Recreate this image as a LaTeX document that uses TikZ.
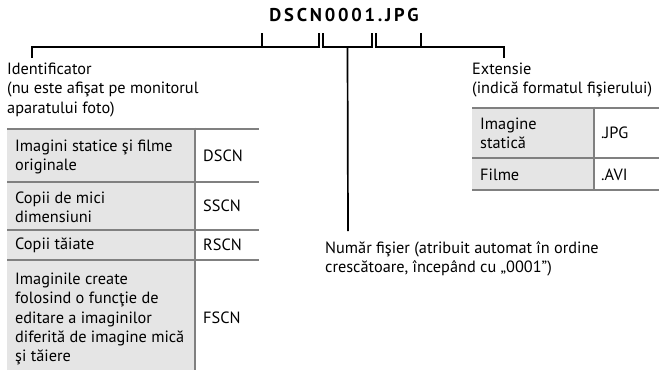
\documentclass[tikz,border=0pt]{standalone}
\usepackage{fontspec}
\setmainfont{PT Sans}
\newfontfamily\titlefont[LetterSpace=15]{PT Sans}
\usetikzlibrary{positioning,calc}
\definecolor{rulegray}{gray}{0.5}
\definecolor{cellgray}{gray}{0.9}
\tikzset{
  leadline/.style={draw=black,line width=1.7pt},
  tblrule/.style={draw=rulegray,line width=2.6pt},
  bodytext/.style={inner sep=0pt,align=left,font=\fontsize{16.3}{19.2}\selectfont},
  celltext/.style={bodytext,anchor=west},
  labeltext/.style={bodytext,anchor=north west},
}

\begin{document}
\begin{tikzpicture}[x=1pt,y=-1pt]
  \useasboundingbox (0,0) rectangle (659,370);
  % file name and its three parts
  \node[inner sep=0pt,font=\titlefont\bfseries\fontsize{18.5}{20}\selectfont] (fname) at (344,15) {DSCN0001.JPG};
  \coordinate (pfxL) at (262,33);
  \coordinate (pfxR) at (319,33);
  \coordinate (numL) at (323,33);
  \coordinate (numR) at (372,33);
  \coordinate (extL) at (376,33);
  \coordinate (extR) at (421,33);
  \draw[leadline] (pfxL) -- ++(0,14) -| (pfxR);
  \draw[leadline] (numL) -- ++(0,14) -| (numR);
  \draw[leadline] (extL) -- ++(0,14) -| (extR);

  % labels
  \node[labeltext] (idlabel) at (7,63) {Identificator\\(nu este afişat pe monitorul\\aparatului foto)};
  \node[labeltext] (extlabel) at (472,63) {Extensie\\(indică formatul fişierului)};
  \node[labeltext] (numlabel) at (325,241) {Număr fişier (atribuit automat în ordine\\crescătoare, începând cu „0001”)};
  \coordinate (idfoot) at (32,58);
  \coordinate (extfoot) at (504,58);
  \coordinate (numfoot) at (348,231);
  \draw[leadline] (idfoot) |- ($(pfxL)+(0,14)$);
  \draw[leadline] (extfoot) |- ($(extR)+(0,14)$);
  \draw[leadline] ($(numL)!0.5!(numR)+(0,14)$) -- (numfoot);

  % left table
  \fill[cellgray] (7,129) rectangle (195,370);
  \foreach \y in {129,182,230,260}
    \draw[tblrule] (7,\y) -- (259,\y);
  \draw[tblrule] (195,127.7) -- (195,370);
  \node[celltext] (stillcell) at (15,157) {Imagini statice şi filme\\originale};
  \node[celltext] (stillcode) at (203,156) {DSCN};
  \node[celltext] (smallcell) at (15,207) {Copii de mici\\dimensiuni};
  \node[celltext] (smallcode) at (203,206) {SSCN};
  \node[celltext] (cropcell) at (15,245) {Copii tăiate};
  \node[celltext] (cropcode) at (203,245) {RSCN};
  \node[celltext] (editcell) at (15,319) {Imaginile create\\folosind o funcţie de\\editare a imaginilor\\diferită de imagine mică\\şi tăiere};
  \node[celltext] (editcode) at (203,318) {FSCN};

  % right table
  \fill[cellgray] (472,108) rectangle (594,190);
  \foreach \y in {108,158,190}
    \draw[tblrule] (472,\y) -- (659,\y);
  \draw[tblrule] (594,106.7) -- (594,191.3);
  \node[celltext] (imgcell) at (480,133) {Imagine\\statică};
  \node[celltext] (imgcode) at (601,133) {.JPG};
  \node[celltext] (movcell) at (480,175) {Filme};
  \node[celltext] (movcode) at (601,175) {.AVI};
\end{tikzpicture}
\end{document}
